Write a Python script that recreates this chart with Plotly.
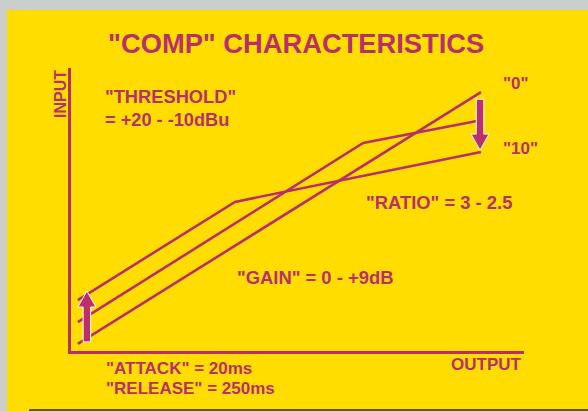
import plotly.graph_objects as go

# ---- data (input level vs output level, arbitrary 0-100 units) ----
knee_low_x = [1.5, 36.2, 90.5]
knee_low_y = [18.0, 52.7, 70.3]
knee_high_x = [1.5, 64.5, 89.6]
knee_high_y = [10.2, 73.5, 81.3]
linear_x = [1.5, 90.5]
linear_y = [2.5, 91.5]

attack_arrow = dict(x=3.5, y0=3.2, y1=21.2)
release_arrow = dict(x=90.3, y0=89.0, y1=71.0)

# ---- layout geometry (pixels) ----
W, H = 588, 411
L, R, T, B = 71, 524, 68, 351
PW, PH = R - L, B - T

MAG = "#B8306A"
ARROW = "#BE2E68"
YEL = "#FFDD00"
FONT = "Liberation Sans, Arial, Helvetica, sans-serif"


def px_x(x):
    return (x - L) / PW


def px_y(y):
    return (B - y) / PH


ux = 100 / PW  # data units per pixel (x)
uy = 100 / PH  # data units per pixel (y)


def arrow_poly(a, shaft=7.5, head=18, head_len=16):
    x, y0, y1 = a["x"], a["y0"], a["y1"]
    d = 1 if y1 > y0 else -1
    hs = shaft / 2 * ux
    hh = head / 2 * ux
    yb = y1 - d * head_len * uy
    xs = [x - hs, x - hs, x - hh, x, x + hh, x + hs, x + hs, x - hs]
    ys = [y0, yb, yb, y1, yb, yb, y0, y0]
    return xs, ys


fig = go.Figure()
for xs, ys in [(knee_low_x, knee_low_y), (knee_high_x, knee_high_y), (linear_x, linear_y)]:
    fig.add_trace(go.Scatter(x=xs, y=ys, mode="lines",
                             line=dict(color=MAG, width=2.6), hoverinfo="skip"))

for a in (attack_arrow, release_arrow):
    xs, ys = arrow_poly(a)
    fig.add_trace(go.Scatter(x=xs, y=ys, mode="lines", fill="toself",
                             fillcolor=ARROW, line=dict(color="white", width=1),
                             hoverinfo="skip"))

shapes = [
    dict(type="rect", xref="paper", yref="paper", x0=px_x(7), x1=px_x(W + 5),
         y0=px_y(411 + 5), y1=px_y(10), fillcolor=YEL, line=dict(width=0), layer="below"),
    dict(type="rect", xref="paper", yref="paper", x0=px_x(29), x1=px_x(W + 5),
         y0=px_y(411 + 5), y1=px_y(409), fillcolor="#5E5A22", line=dict(width=0), layer="below"),
]


def ann(text, x, y, size, xanchor="left", angle=0):
    return dict(text=text, x=px_x(x), y=px_y(y), xref="paper", yref="paper",
                xanchor=xanchor, yanchor="middle", showarrow=False, textangle=angle,
                font=dict(family=FONT, size=size, color=MAG, weight="bold"))


annotations = [
    ann('"COMP" CHARACTERISTICS', 296, 43, 27.3, "center"),
    ann('"THRESHOLD"', 103, 96, 18.3),
    ann('= +20 - -10dBu', 103, 120, 18.2),
    ann('"0"', 501, 84, 17),
    ann('"10"', 501, 148, 17),
    ann('"RATIO" = 3 - 2.5', 364, 203, 18.4),
    ann('"GAIN" = 0 - +9dB', 235, 277, 18.4),
    ann('"ATTACK" = 20ms', 104, 368, 17),
    ann('"RELEASE" = 250ms', 104, 388, 17),
    ann('OUTPUT', 524, 364, 17, "right"),
    ann('INPUT', 60, 94, 16, "center", -90),
]

fig.update_layout(
    width=W, height=H,
    margin=dict(l=L, r=W - R, t=T, b=H - B),
    paper_bgcolor="#CBCFCC", plot_bgcolor="rgba(0,0,0,0)",
    showlegend=False, hovermode=False,
    shapes=shapes, annotations=annotations,
    xaxis=dict(range=[0, 100], showgrid=False, zeroline=False, showticklabels=False,
               ticks="", showline=True, linecolor=MAG, linewidth=3, fixedrange=True),
    yaxis=dict(range=[0, 100], showgrid=False, zeroline=False, showticklabels=False,
               ticks="", showline=True, linecolor=MAG, linewidth=3, fixedrange=True),
)

fig.write_html("out.html", config={"displayModeBar": False},
               post_script="document.body.style.margin='0';document.body.style.overflow='hidden';")
